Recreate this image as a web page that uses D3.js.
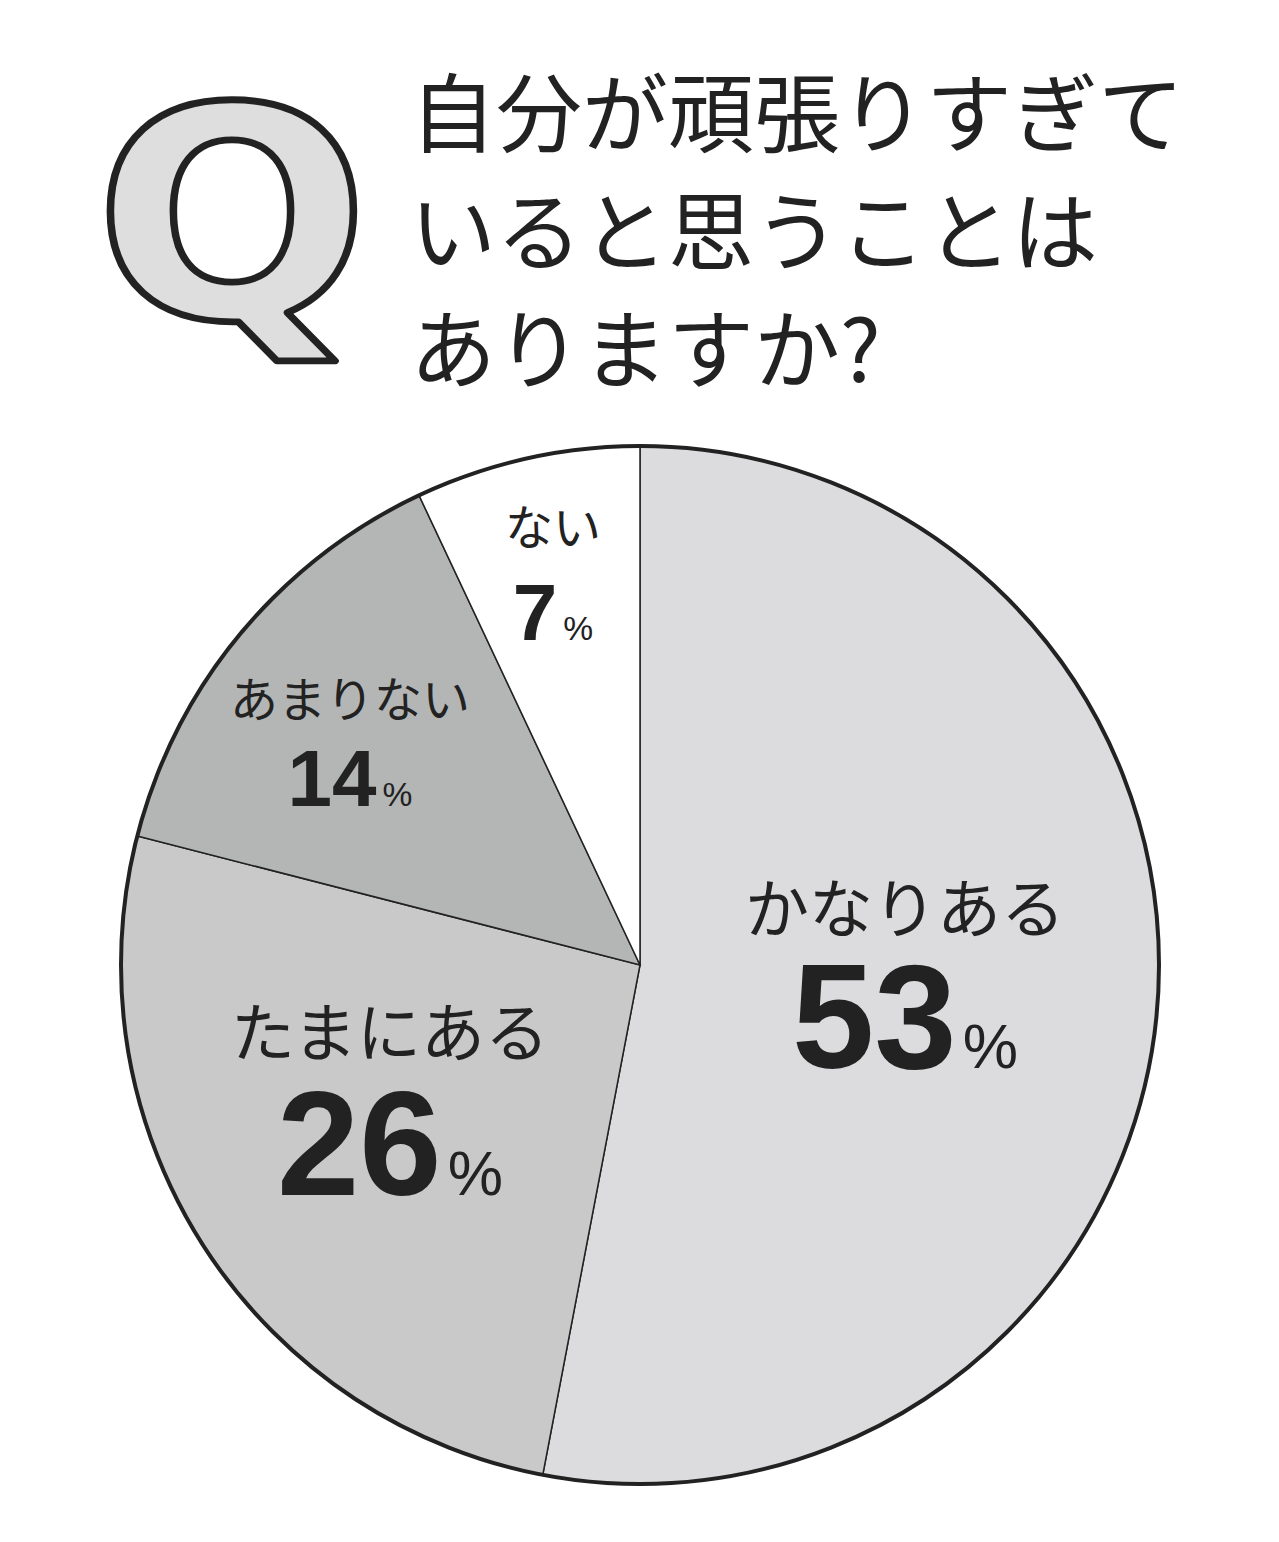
<!DOCTYPE html>
<html><head><meta charset="utf-8">
<script src="https://cdn.jsdelivr.net/npm/d3@7"></script>
<style>body{margin:0;background:#fff}</style>
</head><body><div class="container"></div>
<script>
const WIDTH = 1279, HEIGHT = 1542;
const categories = ["かなりある", "たまにある", "あまりない", "ない"];
const values = [53, 26, 14, 7];
const colors = ["#dcdcde", "#c9c9ca", "#b4b5b5", "#ffffff"];
const titleLines = ["自分が頑張りすぎて", "いると思うことは", "ありますか?"];
// label placement: [x, y of category, y of number, category size, number size]
const labelPos = [
  [905, 932, 1068, 64, 148],
  [390, 1056, 1195, 64, 148],
  [350, 717, 806, 48, 80],
  [553, 545, 640, 48, 80]
];
const cx = 640, cy = 965, R = 519;

var svg = d3.select(".container").append("svg")
  .attr("width", WIDTH).attr("height", HEIGHT)
  .style("font-family", "'Noto Sans CJK JP', sans-serif");

// Q icon
svg.append("text")
  .attr("transform", "translate(232,318) scale(1.08,0.98)")
  .attr("text-anchor", "middle")
  .style("font-family", "'DejaVu Sans', sans-serif")
  .style("font-weight", "bold")
  .style("font-size", "300px")
  .attr("fill", "#dedede").attr("stroke", "#222").attr("stroke-width", 7)
  .attr("stroke-linejoin", "round")
  .text("Q");

svg.selectAll(".title").data(titleLines).enter().append("text")
  .attr("x", 410).attr("y", (d, i) => 146 + i * 118)
  .style("font-size", "86px").attr("fill", "#222")
  .text(d => d);

var pie = d3.pie().sort(null).value(d => d);
var arc = d3.arc().innerRadius(0).outerRadius(R);
var g = svg.append("g").attr("transform", `translate(${cx},${cy})`);
g.selectAll("path").data(pie(values)).enter().append("path")
  .attr("d", arc)
  .attr("fill", (d, i) => colors[i])
  .attr("stroke", "#222").attr("stroke-width", 1.5);
g.append("circle").attr("r", R).attr("fill", "none")
  .attr("stroke", "#222").attr("stroke-width", 4);

categories.forEach((c, i) => {
  const p = labelPos[i];
  svg.append("text").attr("x", p[0]).attr("y", p[1])
    .attr("text-anchor", "middle").style("font-size", p[3] + "px")
    .attr("fill", "#222").text(c);
  const t = svg.append("text").attr("x", p[0]).attr("y", p[2])
    .attr("text-anchor", "middle").attr("fill", "#222")
    .style("font-family", "'Liberation Sans', Arial, sans-serif");
  t.append("tspan").style("font-size", p[4] + "px").style("font-weight", "bold").text(values[i]);
  t.append("tspan").style("font-size", (p[4] * 0.42) + "px").attr("dx", 6).text("%");
});
</script>
</body></html>
